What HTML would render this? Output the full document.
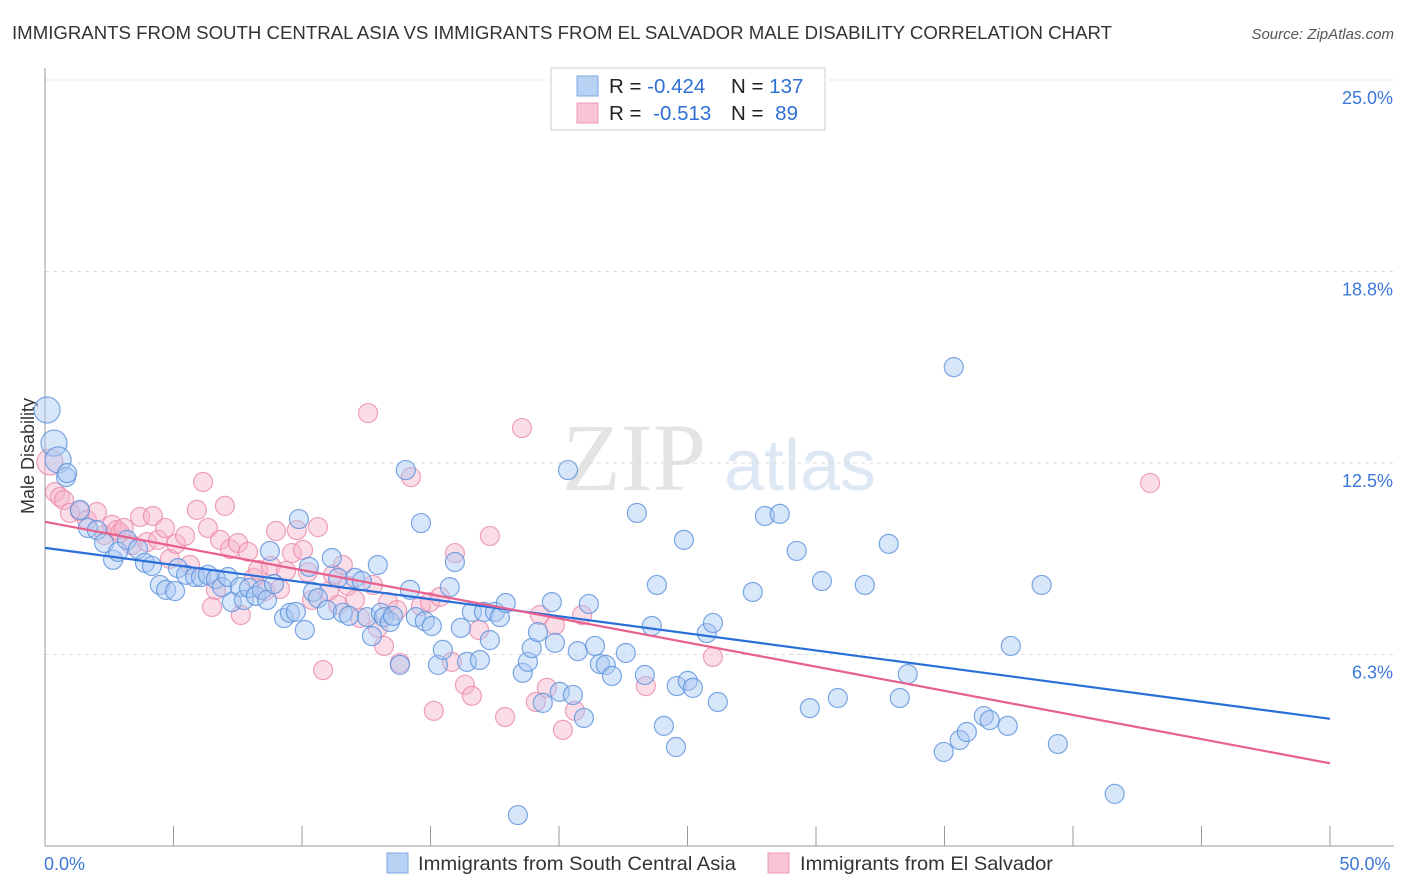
<!DOCTYPE html>
<html><head><meta charset="utf-8"><style>
body{margin:0;background:#fff;width:1406px;height:892px;overflow:hidden;font-family:"Liberation Sans",sans-serif;}
svg{position:absolute;left:0;top:0}
</style></head><body>
<svg id="chart" width="1406" height="892" xmlns="http://www.w3.org/2000/svg">
<text x="12" y="39" font-size="18" fill="#333" textLength="1100" lengthAdjust="spacingAndGlyphs">IMMIGRANTS FROM SOUTH CENTRAL ASIA VS IMMIGRANTS FROM EL SALVADOR MALE DISABILITY CORRELATION CHART</text>
<text x="1394" y="39" font-size="15" fill="#555" font-style="italic" text-anchor="end">Source: ZipAtlas.com</text>
<text x="634" y="490" font-size="96" fill="#e4e4e4" font-family="Liberation Serif" text-anchor="middle">ZIP</text>
<text x="800" y="490" font-size="72" fill="#dde8f4" text-anchor="middle">atlas</text>
<text x="34" y="456" font-size="18" fill="#333" text-anchor="middle" transform="rotate(-90 34 456)">Male Disability</text>
<g id="grid"></g><g id="axes"></g><g id="pts"></g><g id="lines"></g>
<g>
<rect x="551" y="68" width="274" height="62" fill="#fff" stroke="#ccc"/>
<rect x="577" y="76" width="21" height="20" fill="#b8d2f4" stroke="#7fa8e0"/>
<rect x="577" y="103" width="21" height="20" fill="#f9c4d4" stroke="#ec9ab6"/>
<text x="609" y="93" font-size="20.5" fill="#222">R = <tspan fill="#2f6fd6">-0.424</tspan></text>
<text x="731" y="93" font-size="20.5" fill="#222">N = <tspan fill="#2f6fd6">137</tspan></text>
<text x="609" y="120" font-size="20.5" fill="#222">R = <tspan fill="#2f6fd6" dx="6">-0.513</tspan></text>
<text x="731" y="120" font-size="20.5" fill="#222">N = <tspan fill="#2f6fd6" dx="6">89</tspan></text>
</g>
<g>
<rect x="387" y="853" width="21" height="20" fill="#b8d2f4" stroke="#7fa8e0"/>
<text x="418" y="870" font-size="19.5" fill="#333" textLength="318" lengthAdjust="spacingAndGlyphs">Immigrants from South Central Asia</text>
<rect x="768" y="853" width="21" height="20" fill="#f9c4d4" stroke="#ec9ab6"/>
<text x="800" y="870" font-size="19.5" fill="#333" textLength="253" lengthAdjust="spacingAndGlyphs">Immigrants from El Salvador</text>
</g>
</svg>
<script>
const yTicks=[25,18.75,12.5,6.25];
const yTickLabels=["25.0%","18.8%","12.5%","6.3%"];
const xTickLabels=["0.0%","50.0%"];
const blueX=[0.08,0.35,0.51,0.82,0.86,1.36,1.67,2.02,2.30,2.65,2.84,3.19,3.62,3.89,4.16,4.47,4.71,5.06,5.17,5.49,5.84,6.07,6.34,6.65,6.89,7.12,7.27,7.59,7.74,7.94,8.21,8.44,8.64,8.75,8.91,9.30,9.53,9.76,9.88,10.11,10.27,10.43,10.62,10.97,11.16,11.40,11.59,11.83,12.06,12.33,12.53,12.72,12.95,13.07,13.19,13.42,13.54,13.81,14.04,14.20,14.43,14.63,14.78,15.05,15.29,15.48,15.75,15.95,16.18,16.42,16.61,16.92,17.08,17.31,17.51,17.70,17.93,18.40,18.59,18.79,18.94,19.18,19.37,19.72,19.84,20.03,20.35,20.54,20.73,20.97,21.16,21.40,21.59,21.82,22.06,22.60,23.03,23.34,23.61,23.81,24.08,24.55,24.58,24.86,25.01,25.21,25.75,25.99,26.18,27.54,28.01,28.59,29.25,29.76,30.23,30.85,31.90,32.83,33.26,33.57,34.97,35.36,35.59,35.87,36.53,36.76,37.46,37.58,38.78,39.41,41.62,28.9];
const blueY=[14.23,13.15,12.60,12.04,12.17,10.97,10.38,10.31,9.89,9.34,9.60,9.99,9.69,9.24,9.14,8.52,8.36,8.32,9.07,8.85,8.78,8.78,8.85,8.71,8.45,8.78,7.96,8.45,8.03,8.42,8.16,8.36,8.03,9.63,8.55,7.44,7.61,7.64,10.67,7.05,9.11,8.29,8.09,7.70,9.40,8.75,7.61,7.51,8.75,8.65,7.47,6.85,9.17,7.61,7.47,7.31,7.51,5.91,12.27,8.36,7.47,10.54,7.34,7.18,5.91,6.40,8.45,9.27,7.12,6.01,7.64,6.07,7.64,6.72,7.64,7.47,7.93,1.01,5.65,6.01,6.46,6.98,4.67,7.96,6.63,5.03,12.27,4.93,6.36,4.18,7.90,6.53,5.94,5.91,5.55,6.30,10.87,5.58,7.18,8.52,3.92,3.23,5.22,9.99,5.39,5.16,6.95,7.28,4.70,8.29,10.77,10.84,9.63,4.50,8.65,4.83,8.52,9.86,4.83,5.61,3.07,15.63,3.46,3.72,4.24,4.11,3.92,6.53,8.52,3.33,1.70,24.4];
const pinkX=[0.19,0.39,0.58,0.74,0.97,1.36,1.63,2.02,2.30,2.61,2.80,2.92,3.07,3.38,3.70,3.97,4.20,4.40,4.67,4.86,5.10,5.45,5.64,5.91,6.15,6.34,6.50,6.65,6.81,7.00,7.20,7.51,7.62,7.90,8.13,8.29,8.56,8.79,8.99,9.14,9.38,9.61,9.80,10.04,10.23,10.39,10.62,10.82,11.05,11.21,11.40,11.59,11.79,12.06,12.26,12.57,12.76,12.95,13.19,13.35,13.70,13.81,14.24,14.63,14.98,15.13,15.37,15.83,15.95,16.34,16.61,16.89,17.31,17.90,18.56,19.10,19.26,19.53,19.84,20.15,20.62,20.90,23.38,25.99,43.00];
const pinkY=[12.53,11.55,11.39,11.29,10.87,10.93,10.64,10.90,10.15,10.48,10.31,10.22,10.38,9.82,10.74,9.92,10.77,9.99,10.38,9.37,9.86,10.12,9.17,10.97,11.88,10.38,7.80,8.36,9.99,11.10,9.69,9.89,7.54,9.60,8.75,9.01,8.32,9.14,10.28,8.39,8.98,9.56,10.31,9.66,8.94,8.03,10.41,5.74,8.32,8.85,7.87,9.17,8.49,8.03,7.44,14.13,8.52,7.12,6.53,7.96,7.70,5.97,12.04,7.83,7.96,4.41,8.13,6.01,9.56,5.26,4.90,7.05,10.12,4.21,13.64,4.70,7.54,5.16,7.21,3.79,4.41,7.54,5.22,6.17,11.85];
const blueTrend=[9.73,4.15];
const pinkTrend=[10.58,2.70];
const X0=45,X1=1330,Y0=846,PX=30.64;
const xs=v=>X0+v/50*(X1-X0);
const ys=v=>Y0-v*PX;
const NS="http://www.w3.org/2000/svg";
function mk(tag,attrs,parent){const e=document.createElementNS(NS,tag);for(const k in attrs)e.setAttribute(k,attrs[k]);parent.appendChild(e);return e;}
const grid=document.getElementById('grid'),axes=document.getElementById('axes'),pts=document.getElementById('pts'),lines=document.getElementById('lines');
yTicks.forEach((t,i)=>{
 const l=mk('line',{x1:X0,x2:1394,y1:ys(t),y2:ys(t),stroke:'#ddd','stroke-dasharray':'4 4'},grid);
 
 
 const tx=mk('text',{x:1393,y:ys(t)+24,'font-size':18,fill:'#3b78d8','text-anchor':'end'},axes);
 tx.textContent=yTickLabels[i];
 
 
});
const ya=mk('line',{x1:X0,x2:X0,y1:68,y2:846,stroke:'#999'},axes);


const xa=mk('line',{x1:X0,x2:1394,y1:846,y2:846,stroke:'#999'},axes);


for(let i=0;i<=10;i++){
 const v=i*5;
 const tk=mk('line',{x1:xs(v),x2:xs(v),y1:826,y2:846,stroke:'#999'},axes);
 
 
}
[[0,'start',44],[50,'middle',1365]].forEach((d,i)=>{
 const tx=mk('text',{x:d[2],y:870,'font-size':18,fill:'#3b78d8','text-anchor':d[1]},axes);
 tx.textContent=xTickLabels[i];
 
 
});
function dots(X,Y,fill,stroke,name){
 X.forEach((x,i)=>{
  const r=(x<0.6&&Y[i]>12)?13:9.5;
  const c=mk('circle',{cx:xs(x),cy:ys(Y[i]),r:r,fill:fill,'fill-opacity':0.45,stroke:stroke,'stroke-opacity':0.8,'stroke-width':1.2},pts);
  
  
 });
}
dots(pinkX,pinkY,'#f6b3c9','#e889ab','el-salvador-point');
dots(blueX,blueY,'#a9c8f2','#5b91dc','south-central-asia-point');
const bl=mk('line',{x1:xs(0),y1:ys(blueTrend[0]),x2:xs(50),y2:ys(blueTrend[1]),stroke:'#2a6fd8','stroke-width':2.2},lines);


const pl=mk('line',{x1:xs(0),y1:ys(pinkTrend[0]),x2:xs(50),y2:ys(pinkTrend[1]),stroke:'#e8608e','stroke-width':2.2},lines);


</script>
</body></html>
